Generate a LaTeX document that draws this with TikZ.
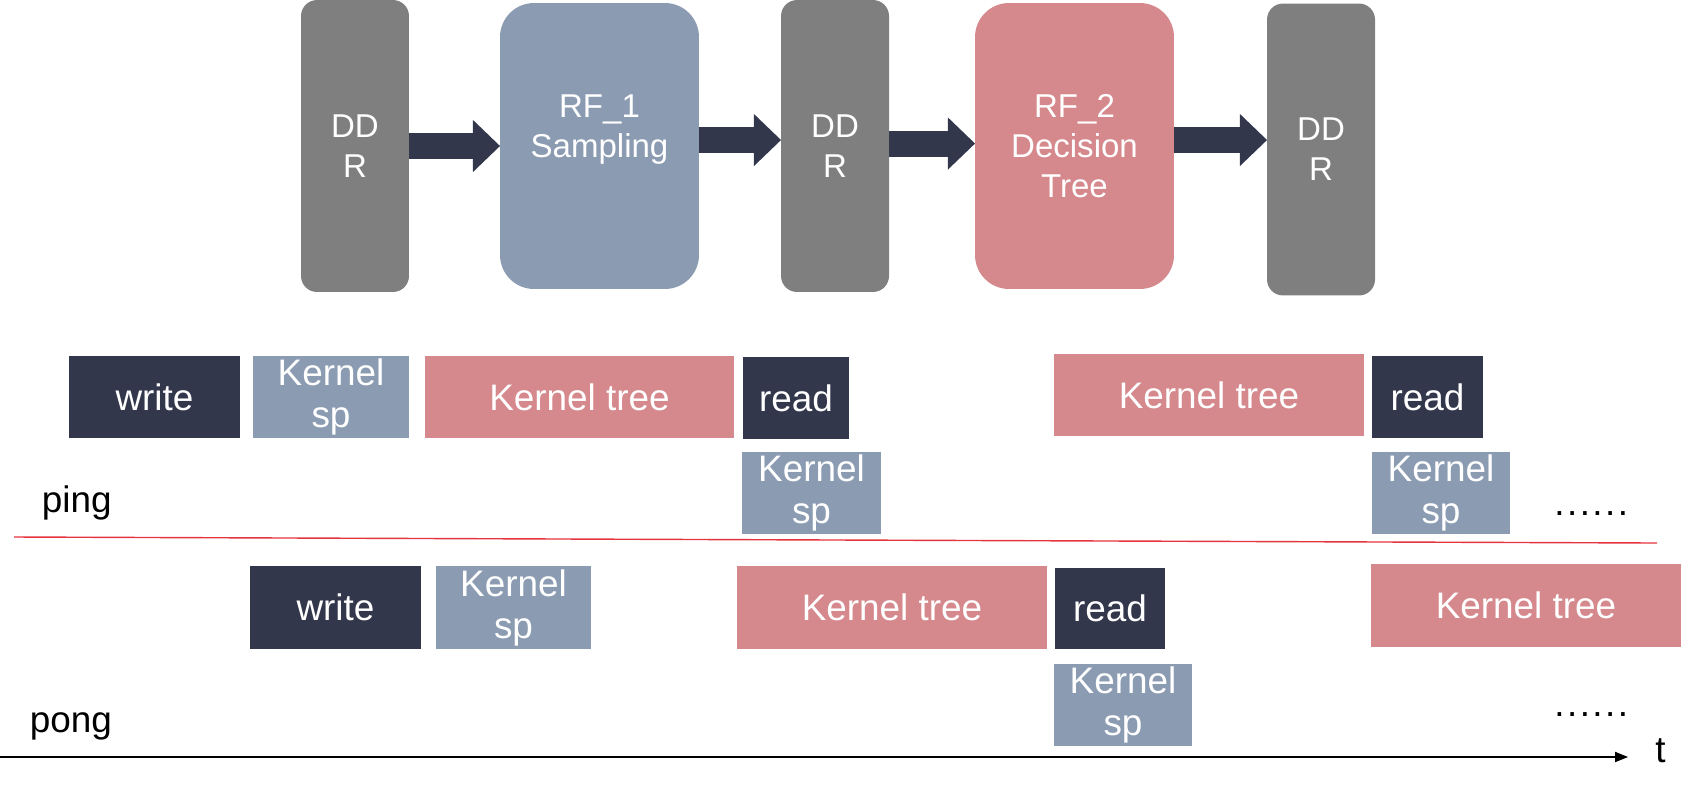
\documentclass[tikz,border=0pt]{standalone}
\usepackage{fontspec}
\setmainfont{Liberation Sans}
\usetikzlibrary{arrows.meta,calc}
\definecolor{navy}{RGB}{50,55,76}
\definecolor{ddrgray}{RGB}{127,127,127}
\definecolor{spblue}{RGB}{139,155,178}
\definecolor{treepink}{RGB}{213,137,141}
\definecolor{sepred}{RGB}{228,52,62}
\newcommand\topfont{\fontsize{18.8pt}{22.8pt}\selectfont}
\newcommand\botfont{\fontsize{21pt}{23.9pt}\selectfont}
\newcommand\sixdots{.\kern1.4pt.\kern1.4pt.\kern1.4pt.\kern1.4pt.\kern1.4pt.}
\tikzset{
  base/.style={inner sep=0pt, outer sep=0pt, text=white, align=center},
  ddrbox/.style={base, fill=ddrgray, rounded corners=0.32cm, minimum width=2.16cm, minimum height=5.84cm, font=\topfont},
  rfbox/.style={base, rounded corners=0.68cm, minimum width=3.98cm, minimum height=5.72cm, font=\topfont},
  tbox/.style={base, font=\botfont},
  blockarrow/.style={draw=navy, line width=14.8pt, -{Triangle[length=15.4pt, width=29.6pt, line width=0pt, fill=navy]}},
  axis/.style={draw=black, line width=1pt, -{Triangle[length=7.4pt, width=6pt, line width=0pt]}},
  lbl/.style={inner sep=0pt, anchor=base west, font=\botfont, text=black},
}
\begin{document}
\begin{tikzpicture}[x=0.02cm, y=-0.02cm]
\useasboundingbox (0,0) rectangle (1689,795);
% top pipeline
\node[ddrbox] (ddr1) at (355,146) {DD\\R};
\node[rfbox, fill=spblue] (rf1) at (599.5,146) {RF\_1\\Sampling\\\mbox{}};
\node[ddrbox] (ddr2) at (835,146) {DD\\R};
\node[rfbox, fill=treepink] (rf2) at (1074.5,146) {RF\_2\\Decision\\Tree};
\node[ddrbox] (ddr3) at (1321,149.5) {DD\\R};
\draw[blockarrow] (ddr1.east) -- (rf1.west);
\draw[blockarrow] ([yshift=3.4pt]rf1.east) -- ([yshift=3.4pt]rf1.east -| ddr2.west);
\draw[blockarrow] ([yshift=1.4pt]ddr2.east) -- ([yshift=1.4pt]ddr2.east -| rf2.west);
\draw[blockarrow] ([yshift=3.4pt]rf2.east) -- ([yshift=3.4pt]rf2.east -| ddr3.west);
% ping row
\node[tbox, fill=navy, minimum width=3.42cm, minimum height=1.64cm] (write1) at (154.5,397) {write};
\node[tbox, fill=spblue, minimum width=3.12cm, minimum height=1.64cm] (ksp1) at (331,397) {Kernel\\sp};
\node[tbox, fill=treepink, minimum width=6.18cm, minimum height=1.64cm] (ktree1) at (579.5,397) {Kernel tree};
\node[tbox, fill=navy, minimum width=2.12cm, minimum height=1.64cm] (read1) at (796,398) {read};
\node[tbox, fill=spblue, minimum width=2.78cm, minimum height=1.64cm] (ksp2) at (811.5,493) {Kernel\\sp};
\node[tbox, fill=treepink, minimum width=6.2cm, minimum height=1.64cm] (ktree2) at (1209,395) {Kernel tree};
\node[tbox, fill=navy, minimum width=2.22cm, minimum height=1.64cm] (read2) at (1427.5,397) {read};
\node[tbox, fill=spblue, minimum width=2.76cm, minimum height=1.64cm] (ksp3) at (1441,493) {Kernel\\sp};
\node[lbl] (ping) at (41.5,512) {ping};
\node[lbl] (dots1) at (1554,515) {\sixdots};
% separator
\coordinate (r0) at (14,537);
\coordinate (r1) at (1657,543);
\draw[sepred, line width=0.8pt] (r0) -- (r1);
% pong row
\node[tbox, fill=navy, minimum width=3.42cm, minimum height=1.66cm] (write2) at (335.5,607.5) {write};
\node[tbox, fill=spblue, minimum width=3.1cm, minimum height=1.66cm] (ksp4) at (513.5,607.5) {Kernel\\sp};
\node[tbox, fill=treepink, minimum width=6.2cm, minimum height=1.66cm] (ktree3) at (892,607.5) {Kernel tree};
\node[tbox, fill=navy, minimum width=2.2cm, minimum height=1.62cm] (read3) at (1110,608.5) {read};
\node[tbox, fill=spblue, minimum width=2.76cm, minimum height=1.64cm] (ksp5) at (1123,705) {Kernel\\sp};
\node[tbox, fill=treepink, minimum width=6.2cm, minimum height=1.66cm] (ktree4) at (1526,605.5) {Kernel tree};
\node[lbl] (pong) at (29.5,732) {pong};
\node[lbl] (dots2) at (1554,716) {\sixdots};
% time axis
\coordinate (t0) at (0,757);
\coordinate (t1) at (1628,757);
\draw[axis] (t0) -- (t1);
\node[lbl] (tlabel) at (1655,762) {t};
\end{tikzpicture}
\end{document}
